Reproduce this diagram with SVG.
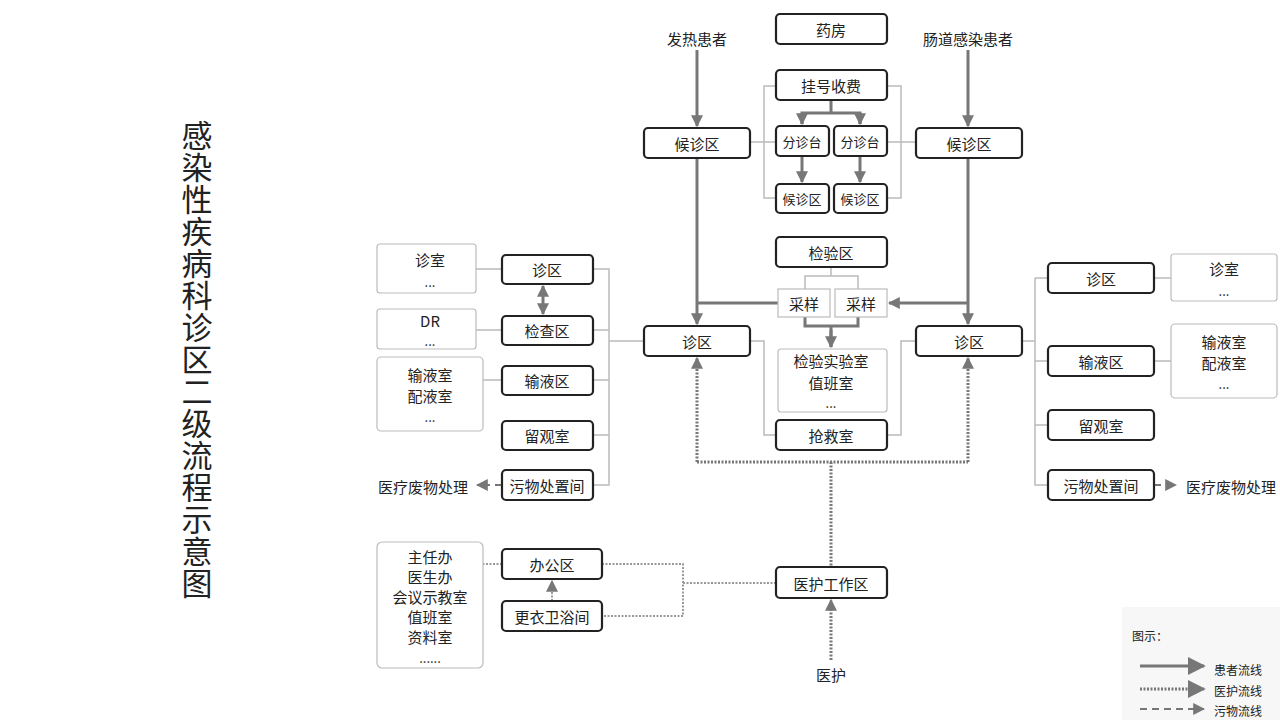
<svg xmlns="http://www.w3.org/2000/svg" width="1280" height="720" viewBox="0 0 1280 720">
<defs>
<marker id="ah" viewBox="0 0 10 10" refX="9" refY="5" markerWidth="4" markerHeight="4" orient="auto-start-reverse"><path d="M0,0 L10,5 L0,10 z" fill="#777"/></marker>
<marker id="ahs" viewBox="0 0 10 10" refX="9" refY="5" markerWidth="6" markerHeight="6" orient="auto-start-reverse"><path d="M0,0 L10,5 L0,10 z" fill="#777"/></marker>
</defs>
<style>
text{font-family:"Noto Sans CJK SC","Liberation Sans",sans-serif;fill:#222;text-anchor:middle;dominant-baseline:central}
.b{fill:#fff;stroke:#222;stroke-width:2.2}
.g{fill:#fff;stroke:#bbb;stroke-width:1.2}
.t{font-size:15px}
.s{font-size:13px}
.p{fill:none;stroke:#777;stroke-width:3}
.th{fill:none;stroke:#bbb;stroke-width:1.5}
.d{fill:none;stroke:#777;stroke-width:3;stroke-dasharray:2 1.5}
.dt{fill:none;stroke:#999;stroke-width:2;stroke-dasharray:2 1.5}
.w{fill:none;stroke:#777;stroke-width:2;stroke-dasharray:7 5}
</style>
<rect width="1280" height="720" fill="#fff"/>
<text x="197" y="360" font-size="31" style="writing-mode:vertical-rl;text-anchor:middle;letter-spacing:1px" font-family="Noto Sans CJK SC,sans-serif">感染性疾病科诊区二级流程示意图</text>

<g id="connectors">
<path class="th" d="M776,86H764V198H776M750,142H776M887,86H901V198H887M916,142H887"/>
<path class="th" d="M831,267V276M805,289V276H858V289"/>
<path class="th" d="M750,341H764V435H776M916,341H901V435H887"/>
<path class="th" d="M593,269H609V485H593M593,330H609M593,380H609M593,435H609M609,341H644"/>
<path class="th" d="M476,269H502M476,330H502M476,380H502"/>
<path class="th" d="M1022,341H1035M1035,278V485H1048M1035,278H1048M1035,361H1048M1035,425H1048M1154,278H1171M1154,361H1171"/>
<path class="p" d="M697,50V126" marker-end="url(#ah)"/>
<path class="p" d="M968,50V126" marker-end="url(#ah)"/>
<path class="p" d="M697,158V324" marker-end="url(#ah)"/>
<path class="p" d="M968,158V324" marker-end="url(#ah)"/>
<path class="p" d="M778,303H697"/>
<path class="p" d="M968,303H889" marker-end="url(#ah)"/>
<path class="p" d="M831,100V113M802,124V113H860V124" />
<path class="p" d="M802,113V124" marker-end="url(#ah)"/>
<path class="p" d="M860,113V124" marker-end="url(#ah)"/>
<path class="p" d="M802,156V182" marker-end="url(#ah)"/>
<path class="p" d="M860,156V182" marker-end="url(#ah)"/>
<path class="p" d="M805,317V326H858V317M831,326V347" />
<path class="p" d="M831,330V347" marker-end="url(#ah)"/>
<path class="p" d="M543,286V314" marker-start="url(#ah)" marker-end="url(#ah)"/>
<path class="d" d="M697,462H968M831,462V567"/>
<path class="d" d="M697,462V358" marker-end="url(#ah)"/>
<path class="d" d="M968,462V358" marker-end="url(#ah)"/>
<path class="d" d="M831,660V600" marker-end="url(#ah)"/>
<path class="dt" d="M472,564H502M602,564H683V616H602M683,583H776"/>
<path class="dt" d="M552,601V581" marker-end="url(#ahs)"/>
<path class="w" d="M502,485H477" marker-end="url(#ahs)"/>
<path class="w" d="M1154,485H1176" marker-end="url(#ahs)"/>
</g>

<g id="labels">
<text class="t" x="697" y="38">发热患者</text>
<text class="t" x="968" y="38">肠道感染患者</text>
<text class="t" x="831" y="674">医护</text>
<text class="t" x="423" y="486">医疗废物处理</text>
<text class="t" x="1231" y="486">医疗废物处理</text>
</g>

<g id="n-yaofang"><rect class="b" x="776" y="14" width="111" height="30" rx="4"/><text class="t" x="831" y="29">药房</text></g>
<g id="n-guahao"><rect class="b" x="776" y="70" width="111" height="30" rx="4"/><text class="t" x="831" y="85">挂号收费</text></g>
<g id="n-fz1"><rect class="b" x="776" y="126" width="53" height="30" rx="4"/><text class="s" x="802" y="141">分诊台</text></g>
<g id="n-fz2"><rect class="b" x="834" y="126" width="53" height="30" rx="4"/><text class="s" x="860" y="141">分诊台</text></g>
<g id="n-hz1"><rect class="b" x="776" y="184" width="53" height="29" rx="4"/><text class="s" x="802" y="198">候诊区</text></g>
<g id="n-hz2"><rect class="b" x="834" y="184" width="53" height="29" rx="4"/><text class="s" x="860" y="198">候诊区</text></g>
<g id="n-hzl"><rect class="b" x="644" y="128" width="106" height="30" rx="4"/><text class="t" x="697" y="143">候诊区</text></g>
<g id="n-hzr"><rect class="b" x="916" y="128" width="106" height="30" rx="4"/><text class="t" x="969" y="143">候诊区</text></g>
<g id="n-jyq"><rect class="b" x="776" y="237" width="111" height="30" rx="4"/><text class="t" x="831" y="252">检验区</text></g>
<g id="n-cy1"><rect class="g" x="778" y="289" width="52" height="28"/><text class="t" x="804" y="303">采样</text></g>
<g id="n-cy2"><rect class="g" x="835" y="289" width="52" height="28"/><text class="t" x="861" y="303">采样</text></g>
<g id="n-lab"><rect class="g" x="778" y="349" width="109" height="63" rx="3"/><text class="t" x="831" y="360">检验实验室</text><text class="t" x="831" y="382">值班室</text><text class="s" x="831" y="402">...</text></g>
<g id="n-qjs"><rect class="b" x="776" y="420" width="111" height="30" rx="4"/><text class="t" x="831" y="435">抢救室</text></g>
<g id="n-zql"><rect class="b" x="644" y="326" width="106" height="30" rx="4"/><text class="t" x="697" y="341">诊区</text></g>
<g id="n-zqr"><rect class="b" x="916" y="326" width="106" height="30" rx="4"/><text class="t" x="969" y="341">诊区</text></g>

<g id="n-l-zq"><rect class="b" x="502" y="255" width="91" height="29" rx="4"/><text class="t" x="547" y="269">诊区</text></g>
<g id="n-l-jc"><rect class="b" x="502" y="316" width="91" height="29" rx="4"/><text class="t" x="547" y="330">检查区</text></g>
<g id="n-l-sy"><rect class="b" x="502" y="366" width="91" height="29" rx="4"/><text class="t" x="547" y="380">输液区</text></g>
<g id="n-l-lg"><rect class="b" x="502" y="421" width="91" height="29" rx="4"/><text class="t" x="547" y="435">留观室</text></g>
<g id="n-l-ww"><rect class="b" x="502" y="470" width="91" height="30" rx="4"/><text class="t" x="547" y="485">污物处置间</text></g>
<g id="n-l-i1"><rect class="g" x="377" y="244" width="99" height="49" rx="3"/><text class="t" x="430" y="259">诊室</text><text class="s" x="430" y="281">...</text></g>
<g id="n-l-i2"><rect class="g" x="377" y="309" width="99" height="40" rx="3"/><text class="t" x="430" y="320">DR</text><text class="s" x="430" y="340">...</text></g>
<g id="n-l-i3"><rect class="g" x="377" y="357" width="106" height="74" rx="4"/><text class="t" x="430" y="374">输液室</text><text class="t" x="430" y="395">配液室</text><text class="s" x="430" y="416">...</text></g>

<g id="n-r-zq"><rect class="b" x="1048" y="263" width="106" height="30" rx="4"/><text class="t" x="1101" y="278">诊区</text></g>
<g id="n-r-sy"><rect class="b" x="1048" y="346" width="106" height="30" rx="4"/><text class="t" x="1101" y="361">输液区</text></g>
<g id="n-r-lg"><rect class="b" x="1048" y="410" width="106" height="30" rx="4"/><text class="t" x="1101" y="425">留观室</text></g>
<g id="n-r-ww"><rect class="b" x="1048" y="470" width="106" height="30" rx="4"/><text class="t" x="1101" y="485">污物处置间</text></g>
<g id="n-r-i1"><rect class="g" x="1171" y="254" width="106" height="47" rx="3"/><text class="t" x="1224" y="268">诊室</text><text class="s" x="1224" y="290">...</text></g>
<g id="n-r-i2"><rect class="g" x="1171" y="324" width="106" height="74" rx="4"/><text class="t" x="1224" y="341">输液室</text><text class="t" x="1224" y="362">配液室</text><text class="s" x="1224" y="383">...</text></g>

<g id="n-bgq"><rect class="b" x="502" y="549" width="100" height="30" rx="4"/><text class="t" x="552" y="564">办公区</text></g>
<g id="n-gy"><rect class="b" x="502" y="601" width="100" height="30" rx="4"/><text class="t" x="552" y="616">更衣卫浴间</text></g>
<g id="n-offices"><rect class="g" x="377" y="542" width="106" height="126" rx="5"/><text class="t" x="430" y="556">主任办</text><text class="t" x="430" y="576">医生办</text><text class="t" x="430" y="596">会议示教室</text><text class="t" x="430" y="616">值班室</text><text class="t" x="430" y="636">资料室</text><text class="s" x="430" y="657">......</text></g>
<g id="n-yhgzq"><rect class="b" x="776" y="567" width="111" height="31" rx="4"/><text class="t" x="831" y="583">医护工作区</text></g>

<g id="legend">
<rect x="1122" y="607" width="158" height="113" fill="#f7f7f7"/>
<text x="1150" y="635" font-size="12" fill="#555">图示：</text>
<path class="p" d="M1140,666H1204" stroke-width="2" marker-end="url(#ahs)"/>
<path class="d" d="M1140,689H1204" stroke-width="2" marker-end="url(#ahs)"/>
<path class="w" d="M1140,709H1204" marker-end="url(#ahs)"/>
<text x="1238" y="669" font-size="12" fill="#444">患者流线</text>
<text x="1238" y="690" font-size="12" fill="#444">医护流线</text>
<text x="1238" y="710" font-size="12" fill="#444">污物流线</text>
</g>
</svg>
